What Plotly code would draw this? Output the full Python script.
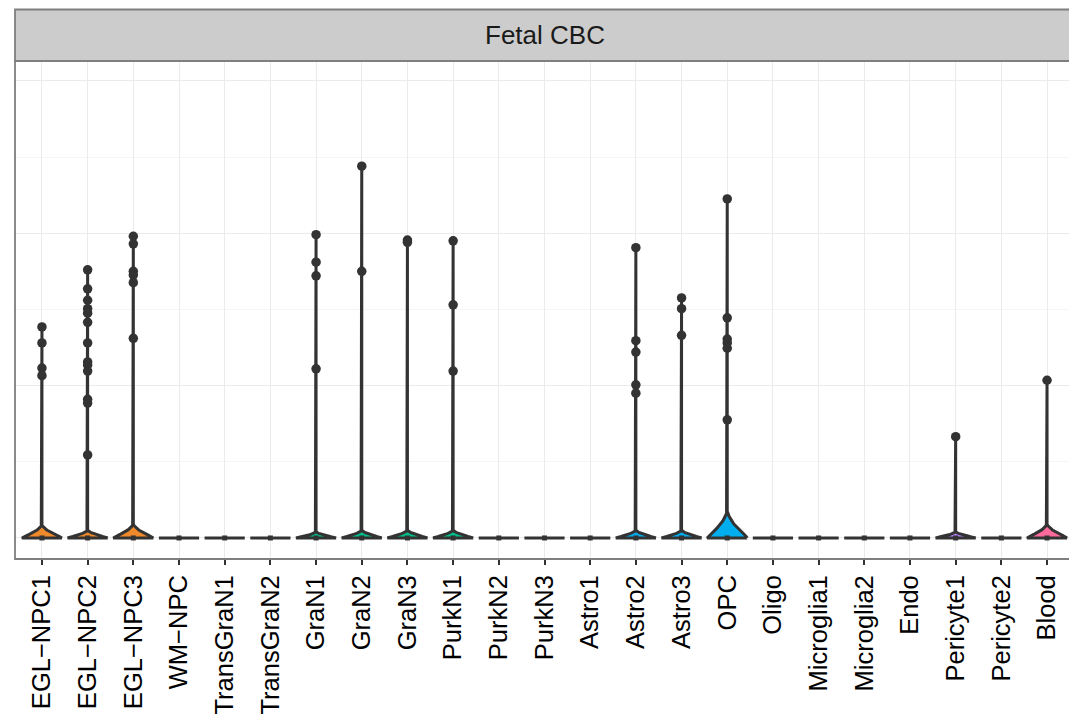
import numpy as np
import plotly.graph_objects as go

# ---------------- data ----------------
categories = ["EGL\u2212NPC1", "EGL\u2212NPC2", "EGL\u2212NPC3", "WM\u2212NPC", "TransGraN1", "TransGraN2",
              "GraN1", "GraN2", "GraN3", "PurkN1", "PurkN2", "PurkN3", "Astro1", "Astro2", "Astro3",
              "OPC", "Oligo", "Microglia1", "Microglia2", "Endo", "Pericyte1", "Pericyte2", "Blood"]

# height (in data units) of the density bulge at zero for each violin (0 = all zeros)
bump_height = [0.17, 0.10, 0.18, 0, 0, 0, 0.08, 0.10, 0.10, 0.10, 0, 0, 0, 0.10, 0.10,
               0.35, 0, 0, 0, 0, 0.08, 0, 0.18]

# non-zero observations (outlier points), long format
point_cat = (["EGL\u2212NPC1"] * 4 + ["EGL\u2212NPC2"] * 13 + ["EGL\u2212NPC3"] * 6 + ["GraN1"] * 4 +
             ["GraN2"] * 2 + ["GraN3"] * 2 + ["PurkN1"] * 3 + ["Astro2"] * 5 + ["Astro3"] * 3 +
             ["OPC"] * 6 + ["Pericyte1"] + ["Blood"])
point_val = [2.77, 2.56, 2.23, 2.13,
             3.52, 3.27, 3.12, 3.01, 2.95, 2.83, 2.56, 2.31, 2.27, 2.19, 1.82, 1.77, 1.09,
             3.96, 3.86, 3.50, 3.45, 3.35, 2.62,
             3.98, 3.62, 3.44, 2.22,
             4.88, 3.50,
             3.91, 3.88,
             3.90, 3.06, 2.19,
             3.81, 2.59, 2.44, 2.01, 1.90,
             3.15, 3.01, 2.66,
             4.45, 2.89, 2.61, 2.56, 2.49, 1.55,
             1.33,
             2.07]

# ---------------- style ----------------
fill_colors = ["#EE8A2C", "#EE8A2C", "#EE8A2C", "#EE8A2C", "#7CAE00", "#7CAE00",
               "#00C08B", "#00C08B", "#00C08B", "#00C08B", "#00C08B", "#00C08B",
               "#00AEEF", "#00AEEF", "#00AEEF", "#00AEEF", "#00AEEF",
               "#B983FF", "#B983FF", "#B983FF", "#B983FF", "#B983FF", "#FF6A9C"]
DARK = "#333333"
HALF_W = 0.44

fig = go.Figure()

for i, (cat, h) in enumerate(zip(categories, bump_height)):
    vals = [v for c, v in zip(point_cat, point_val) if c == cat]
    if h > 0:
        t = np.linspace(0, 1, 40)
        k = 2.0
        w = HALF_W * (np.exp(-k * t ** 1.3) - np.exp(-k)) / (1 - np.exp(-k))
        ys = t * h
        ymax = max(vals) if vals else h
        xs = list(i + w) + [i] + list((i - w)[::-1]) + [i + HALF_W]
        yy = list(ys) + [ymax] + list(ys[::-1]) + [0]
        fig.add_trace(go.Scatter(x=xs, y=yy, mode="lines", fill="toself",
                                 fillcolor=fill_colors[i],
                                 line=dict(color=DARK, width=3),
                                 hoverinfo="skip", showlegend=False))
    else:
        fig.add_trace(go.Scatter(x=[i - HALF_W, i + HALF_W], y=[0, 0], mode="lines",
                                 line=dict(color=DARK, width=3),
                                 hoverinfo="skip", showlegend=False))

# outlier points
cat_index = {c: j for j, c in enumerate(categories)}
fig.add_trace(go.Scatter(x=[cat_index[c] for c in point_cat], y=point_val, mode="markers",
                         marker=dict(color=DARK, size=9.5, line=dict(width=0)),
                         showlegend=False))
# median markers
fig.add_trace(go.Scatter(x=list(range(len(categories))), y=[0] * len(categories), mode="markers",
                         marker=dict(color=DARK, size=5, symbol="square", line=dict(width=0)),
                         showlegend=False))

FONT = "Liberation Sans, Arial, Helvetica, sans-serif"
fig.update_layout(
    width=1069, height=707,
    margin=dict(l=7, r=3, t=53, b=156),
    paper_bgcolor="white", plot_bgcolor="white",
    font=dict(family=FONT, color="black"),
    xaxis=dict(range=[-0.59, len(categories) - 0.41], automargin=False,
               tickmode="array", tickvals=list(range(len(categories))), ticktext=categories,
               tickangle=-90, tickfont=dict(size=25.5, color="black", family=FONT),
               ticks="outside", ticklen=5, tickwidth=1.6, tickcolor=DARK,
               showgrid=True, gridcolor="#EBEBEB", gridwidth=1.3,
               zeroline=False, showline=False),
    yaxis=dict(range=[-0.276, 6.26], dtick=2, tick0=0, showticklabels=False, ticks="",
               automargin=False,
               showgrid=True, gridcolor="#EBEBEB", gridwidth=1.3, zeroline=False, showline=False,
               minor=dict(dtick=1, tick0=0, showgrid=True, gridcolor="#F5F5F5", gridwidth=1.0)),
    shapes=[
        dict(type="rect", xref="paper", yref="paper", x0=0, x1=1, y0=0, y1=1,
             line=dict(color="#7F7F7F", width=1.8), fillcolor="rgba(0,0,0,0)", layer="above"),
        dict(type="rect", xref="paper", yref="paper", x0=0, x1=1, y0=1, y1=1 + 51.5 / 498,
             line=dict(color="#7F7F7F", width=1.8), fillcolor="#CCCCCC", layer="above"),
    ],
    annotations=[
        dict(text="Fetal CBC", xref="paper", yref="paper", x=0.5, y=1 + 25.75 / 498,
             showarrow=False, xanchor="center", yanchor="middle",
             font=dict(size=26, color="#1A1A1A", family=FONT)),
    ],
)

fig.write_html("out.html")
